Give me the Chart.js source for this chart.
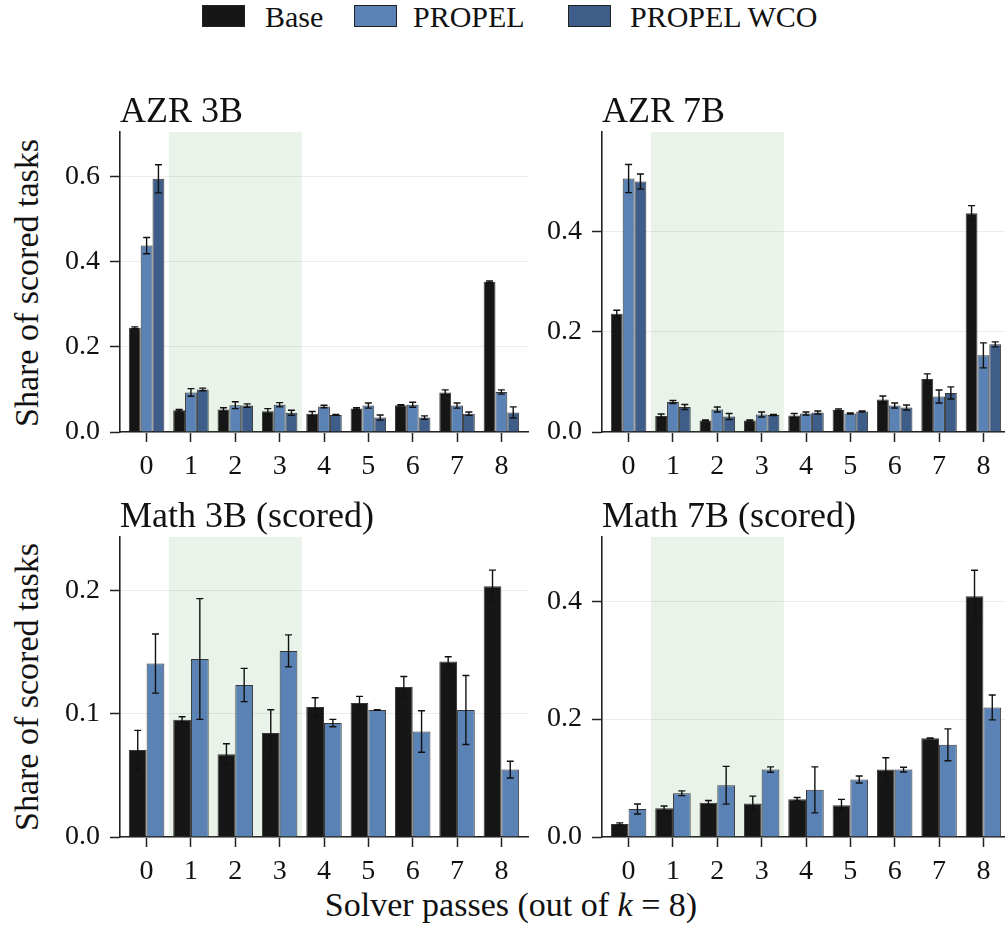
<!DOCTYPE html>
<html>
<head>
<meta charset="utf-8">
<script src="https://cdn.jsdelivr.net/npm/chart.js@4.4.1/dist/chart.umd.min.js"></script>
<style>
  html, body { margin: 0; padding: 0; background: #fff; width: 1005px; height: 941px; overflow: hidden; }
  body { position: relative; font-family: 'Liberation Serif', 'Times New Roman', serif; color: #111; }
  canvas.panel { position: absolute; }
  .box { position: absolute; top: 5px; width: 41px; height: 20px; border: 1px solid #222; }
  .leg { position: absolute; top: 2px; font-size: 30px; line-height: 30px; white-space: nowrap; }
  .ylab { position: absolute; font-size: 34px; line-height: 34px; white-space: nowrap;
          transform: translate(-50%, -50%) rotate(-90deg); }
  .xlab { position: absolute; left: 511px; top: 888px; font-size: 34px; line-height: 34px;
          white-space: nowrap; transform: translateX(-50%); }
</style>
</head>
<body>

<div class="box" style="left:202px; background:#161616"></div>
<div class="leg" style="left:265px">Base</div>
<div class="box" style="left:354px; background:#5a82b5"></div>
<div class="leg" style="left:413px">PROPEL</div>
<div class="box" style="left:568px; background:#3e5e89"></div>
<div class="leg" style="left:630px">PROPEL WCO</div>

<div class="ylab" style="left:27px; top:283px">Share of scored tasks</div>
<div class="ylab" style="left:27px; top:687px">Share of scored tasks</div>
<div class="xlab">Solver passes (out of <i>k</i> = 8)</div>

<canvas id="azr3" class="panel" width="508" height="400" style="left:40px; top:92px"></canvas>
<canvas id="azr7" class="panel" width="508" height="400" style="left:522px; top:92px"></canvas>
<canvas id="math3" class="panel" width="508" height="400" style="left:40px; top:497px"></canvas>
<canvas id="math7" class="panel" width="508" height="400" style="left:522px; top:497px"></canvas>

<script>
// solver passes out of k = 8
const passes = [0, 1, 2, 3, 4, 5, 6, 7, 8];

// AZR 3B
const azr3Base = [0.245, 0.051, 0.053, 0.049, 0.043, 0.055, 0.063, 0.093, 0.353];
const azr3BaseErr = [0.002, 0.002, 0.004, 0.006, 0.005, 0.002, 0.001, 0.006, 0.002];
const azr3Propel = [0.438, 0.093, 0.063, 0.064, 0.060, 0.062, 0.064, 0.062, 0.094];
const azr3PropelErr = [0.019, 0.009, 0.008, 0.005, 0.003, 0.006, 0.006, 0.006, 0.005];
const azr3Wco = [0.595, 0.100, 0.062, 0.045, 0.040, 0.034, 0.034, 0.043, 0.046];
const azr3WcoErr = [0.033, 0.003, 0.004, 0.006, 0.001, 0.006, 0.004, 0.004, 0.013];

// AZR 7B
const azr7Base = [0.236, 0.032, 0.023, 0.023, 0.033, 0.044, 0.065, 0.106, 0.437];
const azr7BaseErr = [0.007, 0.004, 0.001, 0.001, 0.004, 0.002, 0.007, 0.010, 0.015];
const azr7Propel = [0.506, 0.060, 0.045, 0.035, 0.037, 0.037, 0.053, 0.071, 0.153];
const azr7PropelErr = [0.028, 0.003, 0.005, 0.005, 0.003, 0.001, 0.005, 0.013, 0.025];
const azr7Wco = [0.500, 0.050, 0.031, 0.034, 0.039, 0.041, 0.049, 0.078, 0.175];
const azr7WcoErr = [0.015, 0.005, 0.006, 0.001, 0.003, 0.001, 0.005, 0.012, 0.005];

// Math 3B (scored)
const math3Base = [0.0705, 0.0951, 0.0672, 0.0843, 0.1054, 0.1087, 0.1217, 0.1423, 0.2035];
const math3BaseErr = [0.016, 0.0025, 0.0085, 0.019, 0.0076, 0.0054, 0.0085, 0.004, 0.013];
const math3Propel = [0.1407, 0.1444, 0.1233, 0.151, 0.0924, 0.103, 0.0856, 0.103, 0.0547];
const math3PropelErr = [0.024, 0.049, 0.0135, 0.013, 0.003, 0.0003, 0.0168, 0.028, 0.0068];

// Math 7B (scored)
const math7Base = [0.022, 0.0487, 0.058, 0.0567, 0.064, 0.0538, 0.1144, 0.1677, 0.4085];
const math7BaseErr = [0.002, 0.004, 0.004, 0.0127, 0.003, 0.01, 0.02, 0.0005, 0.044];
const math7Propel = [0.0476, 0.0742, 0.0878, 0.1144, 0.080, 0.0975, 0.1144, 0.1564, 0.2198];
const math7PropelErr = [0.0085, 0.004, 0.032, 0.0045, 0.039, 0.006, 0.004, 0.027, 0.021];

// shaded band of passes 1..3
const bandFrom = 0.5;
const bandTo = 3.5;

const FONT = "'Liberation Serif', 'Times New Roman', serif";
const colBase = '#161616';
const colPropel = '#5a82b5';
const colWco = '#3e5e89';

function series(label, values, errs, color) {
  return {
    label: label,
    data: passes.map((p, i) => ({ x: p, y: values[i] })),
    errors: errs,
    backgroundColor: color,
    borderColor: 'rgba(20,20,20,0.85)',
    borderWidth: 1,
    borderSkipped: 'bottom',
    categoryPercentage: 0.8,
    barPercentage: 1.0
  };
}

// green band behind the bars
const bandPlugin = {
  id: 'band',
  beforeDatasetsDraw(chart) {
    const x = chart.scales.x, a = chart.chartArea, ctx = chart.ctx;
    const x0 = x.getPixelForValue(bandFrom), x1 = x.getPixelForValue(bandTo);
    ctx.save();
    ctx.fillStyle = 'rgba(76,160,76,0.12)';
    ctx.fillRect(x0, a.top, x1 - x0, a.bottom - a.top);
    ctx.restore();
  }
};

// error bars on top of each bar
const errorPlugin = {
  id: 'errbars',
  afterDatasetsDraw(chart) {
    const ctx = chart.ctx, y = chart.scales.y;
    ctx.save();
    ctx.strokeStyle = '#111';
    ctx.lineWidth = 1.4;
    chart.data.datasets.forEach((ds, di) => {
      const meta = chart.getDatasetMeta(di);
      meta.data.forEach((bar, i) => {
        const v = ds.data[i].y, e = ds.errors[i];
        const lo = y.getPixelForValue(v - e), hi = y.getPixelForValue(v + e);
        ctx.beginPath();
        ctx.moveTo(bar.x, lo); ctx.lineTo(bar.x, hi);
        ctx.moveTo(bar.x - 3.5, lo); ctx.lineTo(bar.x + 3.5, lo);
        ctx.moveTo(bar.x - 3.5, hi); ctx.lineTo(bar.x + 3.5, hi);
        ctx.stroke();
      });
    });
    ctx.restore();
  }
};

// panel title, left aligned on the y axis
const titlePlugin = {
  id: 'paneltitle',
  afterDraw(chart, args, opts) {
    const ctx = chart.ctx, a = chart.chartArea;
    ctx.save();
    ctx.font = '36px ' + FONT;
    ctx.fillStyle = '#111';
    ctx.textBaseline = 'alphabetic';
    ctx.textAlign = 'left';
    ctx.fillText(opts.text, a.left, a.top - 10.5);
    ctx.restore();
  }
};

function makePanel(id, title, datasets, yMax, yStep) {
  new Chart(document.getElementById(id), {
    type: 'bar',
    data: { datasets: datasets },
    plugins: [bandPlugin, errorPlugin, titlePlugin],
    options: {
      responsive: false,
      animation: false,
      devicePixelRatio: 1,
      layout: { padding: { top: 40, right: 20, left: 0, bottom: 0 } },
      plugins: {
        legend: { display: false },
        tooltip: { enabled: false },
        paneltitle: { text: title }
      },
      scales: {
        x: {
          type: 'linear',
          offset: false,
          min: -0.6,
          max: 8.6,
          afterFit(s) { s.height = 60; },
          ticks: {
            stepSize: 1,
            includeBounds: false,
            padding: 8,
            color: '#111',
            font: { family: FONT, size: 28 },
            callback: v => String(v)
          },
          grid: { offset: false, drawOnChartArea: false, drawTicks: true, tickColor: '#222', tickLength: 10, tickWidth: 1.5 },
          border: { color: '#222', width: 1.6 }
        },
        y: {
          min: 0,
          max: yMax,
          afterFit(s) { s.width = 80; },
          ticks: {
            stepSize: yStep,
            includeBounds: false,
            padding: 10,
            color: '#111',
            font: { family: FONT, size: 28 },
            callback: v => v.toFixed(1)
          },
          grid: { color: '#ececec', lineWidth: 1, tickColor: '#222', tickLength: 10, tickWidth: 1.5 },
          border: { color: '#222', width: 1.6 }
        }
      }
    }
  });
}

makePanel('azr3', 'AZR 3B', [
  series('Base', azr3Base, azr3BaseErr, colBase),
  series('PROPEL', azr3Propel, azr3PropelErr, colPropel),
  series('PROPEL WCO', azr3Wco, azr3WcoErr, colWco)
], 0.705, 0.2);

makePanel('azr7', 'AZR 7B', [
  series('Base', azr7Base, azr7BaseErr, colBase),
  series('PROPEL', azr7Propel, azr7PropelErr, colPropel),
  series('PROPEL WCO', azr7Wco, azr7WcoErr, colWco)
], 0.599, 0.2);

makePanel('math3', 'Math 3B (scored)', [
  series('Base', math3Base, math3BaseErr, colBase),
  series('PROPEL', math3Propel, math3PropelErr, colPropel)
], 0.2434, 0.1);

makePanel('math7', 'Math 7B (scored)', [
  series('Base', math7Base, math7BaseErr, colBase),
  series('PROPEL', math7Propel, math7PropelErr, colPropel)
], 0.509, 0.2);
</script>
</body>
</html>
